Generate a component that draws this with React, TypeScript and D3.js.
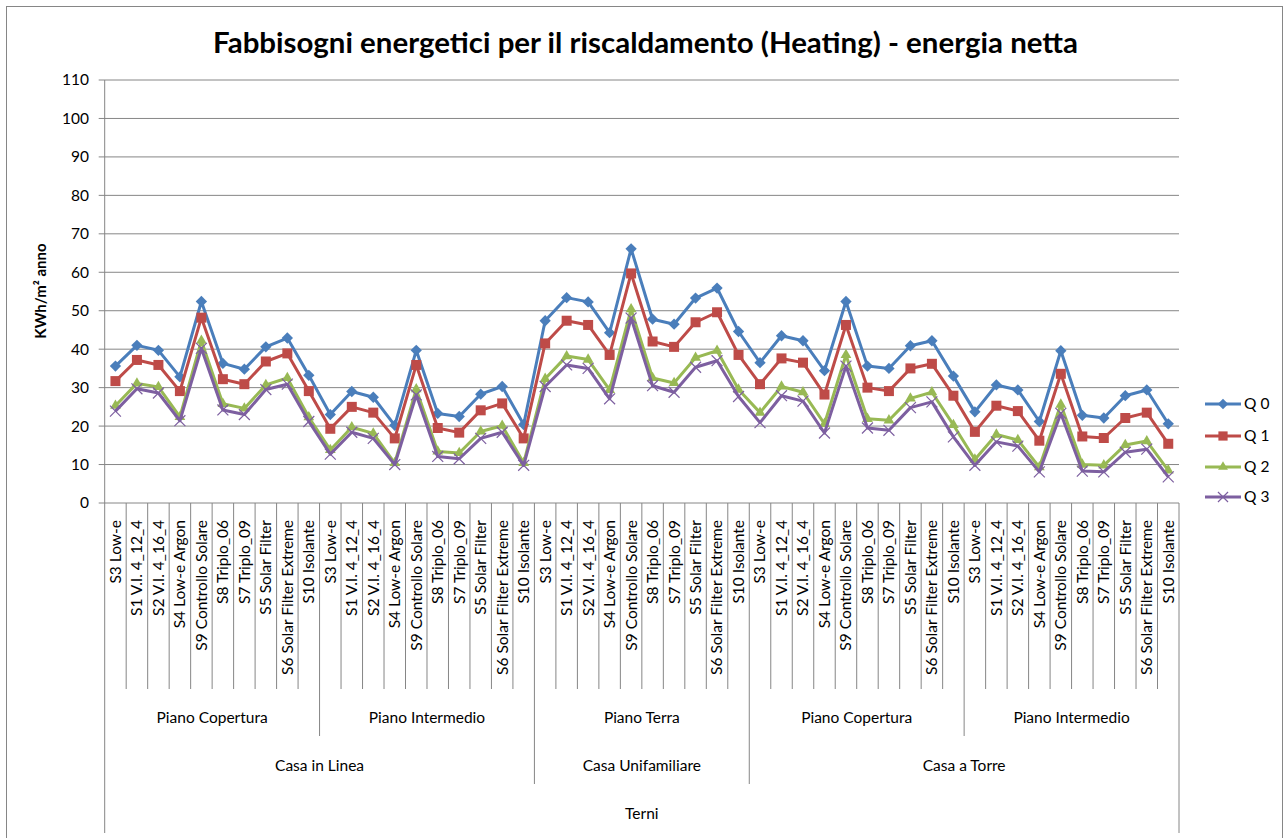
import React from "react";
import * as d3 from "d3";

// data
const tipologie = [
  "S3 Low-e",
  "S1 V.I. 4_12_4",
  "S2 V.I. 4_16_4",
  "S4 Low-e Argon",
  "S9 Controllo Solare",
  "S8 Triplo_06",
  "S7 Triplo_09",
  "S5 Solar Filter",
  "S6 Solar Filter Extreme",
  "S10 Isolante",
];
const piani = ["Piano Copertura", "Piano Intermedio", "Piano Terra", "Piano Copertura", "Piano Intermedio"];
const case_ = ["Casa in Linea", "Casa Unifamiliare", "Casa a Torre"];
const pianiPerCasa = [2, 1, 2];
const citta = "Terni";

const q0 = [
  35.6, 41.0, 39.7, 32.8, 52.4, 36.3, 34.8, 40.6, 42.9, 33.2,
  23.0, 29.0, 27.5, 20.2, 39.7, 23.3, 22.5, 28.3, 30.3, 20.4,
  47.4, 53.4, 52.3, 44.3, 66.1, 47.8, 46.5, 53.3, 55.9, 44.6,
  36.5, 43.5, 42.2, 34.4, 52.4, 35.6, 35.0, 40.9, 42.2, 33.0,
  23.7, 30.7, 29.4, 21.2, 39.6, 22.8, 22.1, 27.9, 29.4, 20.6,
];
const q1 = [
  31.7, 37.2, 35.9, 29.1, 48.2, 32.2, 30.9, 36.8, 38.9, 29.1,
  19.3, 25.0, 23.5, 16.8, 35.9, 19.5, 18.3, 24.1, 25.9, 16.8,
  41.5, 47.4, 46.3, 38.5, 59.7, 42.0, 40.6, 47.0, 49.6, 38.5,
  30.9, 37.6, 36.5, 28.2, 46.3, 30.0, 29.1, 35.0, 36.2, 27.9,
  18.5, 25.3, 23.9, 16.2, 33.6, 17.3, 16.9, 22.1, 23.5, 15.4,
];
const q2 = [
  25.3, 31.1, 30.2, 22.4, 42.2, 25.8, 24.6, 30.7, 32.5, 22.3,
  13.8, 19.7, 18.1, 10.4, 29.6, 13.4, 13.0, 18.6, 20.1, 10.4,
  32.3, 38.2, 37.3, 29.4, 50.4, 32.5, 31.2, 37.8, 39.6, 29.5,
  23.5, 30.3, 28.8, 20.6, 38.5, 21.9, 21.5, 27.2, 28.8, 20.3,
  11.3, 17.8, 16.4, 9.3, 25.6, 10.0, 9.8, 15.1, 16.1, 8.5,
];
const q3 = [
  23.9, 29.7, 28.6, 21.4, 40.2, 24.2, 23.0, 29.5, 30.9, 21.2,
  12.7, 18.4, 16.8, 10.0, 28.1, 12.1, 11.5, 16.8, 18.4, 9.8,
  30.3, 35.9, 35.0, 27.1, 48.1, 30.5, 28.8, 35.3, 37.0, 27.7,
  20.9, 27.9, 26.5, 18.2, 35.6, 19.5, 18.9, 24.8, 26.3, 17.2,
  9.8, 15.9, 14.8, 8.1, 23.3, 8.3, 8.1, 13.2, 14.0, 6.8,
];
const yTicks = [0, 10, 20, 30, 40, 50, 60, 70, 80, 90, 100, 110];

const series = [
  { name: "Q 0", values: q0, color: "#4A7EBB", marker: "diamond" },
  { name: "Q 1", values: q1, color: "#BE4B48", marker: "square" },
  { name: "Q 2", values: q2, color: "#98B954", marker: "triangle" },
  { name: "Q 3", values: q3, color: "#7D5FA0", marker: "x" },
];

const W = 1285;
const H = 838;
const left = 104.7;
const right = 1179;
const top = 80;
const bottom = 503;
const font = "Lato, 'Noto Sans', sans-serif";

function Marker({ type, color, x, y, scale = 1 }) {
  if (type === "diamond") {
    const p = d3.symbol(d3.symbolSquare, 64 * scale)();
    return <path d={p} transform={`translate(${x},${y}) rotate(45)`} fill={color} />;
  }
  if (type === "square") {
    const p = d3.symbol(d3.symbolSquare, 100 * scale)();
    return <path d={p} transform={`translate(${x},${y})`} fill={color} />;
  }
  if (type === "triangle") {
    const p = d3.symbol(d3.symbolTriangle, 50 * scale)();
    return <path d={p} transform={`translate(${x},${y})`} fill={color} />;
  }
  const p = d3.symbol(d3.symbolTimes, 80 * scale)();
  return <path d={p} transform={`translate(${x},${y})`} fill="none" stroke={color} strokeWidth={1.2} />;
}

export default function App() {
  const categorie = d3.range(piani.length * tipologie.length);
  const x = d3.scaleBand<number>().domain(categorie).range([left, right]).padding(0);
  const bw = x.bandwidth();
  const cx = (i: number) => (x(i) as number) + bw / 2;
  const y = d3.scaleLinear().domain([0, 110]).range([bottom, top]);

  const line = d3
    .line<number>()
    .x((_, i) => cx(i))
    .y((d) => y(d));

  const nT = tipologie.length;
  // boundaries of the hierarchical axis
  const boundaries = d3.range(categorie.length + 1).map((b) => {
    let depth = 689;
    if (b % nT === 0) depth = 736;
    let acc = 0;
    pianiPerCasa.forEach((n) => {
      acc += n;
      if (b === acc * nT || b === 0) depth = Math.max(depth, 784);
    });
    if (b === 0 || b === categorie.length) depth = 833;
    return { b, depth };
  });
  const bx = (b: number) => left + b * bw;

  let casaStart = 0;
  const casaSpans = case_.map((c, k) => {
    const s = casaStart;
    casaStart += pianiPerCasa[k] * nT;
    return { label: c, from: s, to: casaStart };
  });

  return (
    <div style={{ position: "fixed", left: 0, top: 0 }}>
      <svg width={W} height={H} style={{ display: "block", background: "#fff" }}>
        <rect x={6.5} y={6.5} width={1276} height={860} fill="#fff" stroke="#868686" strokeWidth={1} />
        <text
          x={645.5}
          y={53}
          textAnchor="middle"
          fontFamily={font}
          fontWeight="bold"
          fontSize={28}
          textLength={865}
          lengthAdjust="spacingAndGlyphs"
          fill="#000"
        >
          Fabbisogni energetici per il riscaldamento (Heating) - energia netta
        </text>

        {/* gridlines */}
        {yTicks.map((t) => (
          <g key={t}>
            <line x1={left - 6} x2={right} y1={y(t)} y2={y(t)} stroke="#868686" strokeWidth={1} />
            <text
              x={89}
              y={y(t)}
              dy="0.35em"
              textAnchor="end"
              fontFamily={font}
              fontSize={15.5}
              fill="#000"
            >
              {t}
            </text>
          </g>
        ))}
        <line x1={left} x2={left} y1={top} y2={bottom} stroke="#868686" />

        <text
          transform={`translate(46,${291}) rotate(-90)`}
          textAnchor="middle"
          fontFamily={font}
          fontWeight="bold"
          fontSize={15}
          fill="#000"
        >
          KWh/m² anno
        </text>

        {/* category axis */}
        {boundaries.map(({ b, depth }) => (
          <line key={b} x1={bx(b)} x2={bx(b)} y1={bottom} y2={depth} stroke="#868686" strokeWidth={1} />
        ))}
        {categorie.map((i) => (
          <text
            key={i}
            transform={`translate(${cx(i)},${520}) rotate(-90)`}
            dy="0.35em"
            textAnchor="end"
            fontFamily={font}
            fontSize={15.5}
            fill="#000"
          >
            {tipologie[i % nT]}
          </text>
        ))}
        {piani.map((p, g) => (
          <text
            key={g}
            x={(bx(g * nT) + bx((g + 1) * nT)) / 2}
            y={723}
            textAnchor="middle"
            fontFamily={font}
            fontSize={15.5}
            fill="#000"
          >
            {p}
          </text>
        ))}
        {casaSpans.map((c) => (
          <text
            key={c.label}
            x={(bx(c.from) + bx(c.to)) / 2}
            y={771}
            textAnchor="middle"
            fontFamily={font}
            fontSize={15.5}
            fill="#000"
          >
            {c.label}
          </text>
        ))}
        <text x={(left + right) / 2} y={819} textAnchor="middle" fontFamily={font} fontSize={15.5} fill="#000">
          {citta}
        </text>

        {/* series */}
        {series.map((s) => (
          <g key={s.name}>
            <path d={line(s.values) as string} fill="none" stroke={s.color} strokeWidth={3} strokeLinejoin="round" />
            {s.values.map((v, i) => (
              <Marker key={i} type={s.marker} color={s.color} x={cx(i)} y={y(v)} />
            ))}
          </g>
        ))}

        {/* legend */}
        {series.map((s, k) => {
          const ly = [404, 436, 467, 497][k];
          return (
            <g key={s.name}>
              <line x1={1205} x2={1241} y1={ly} y2={ly} stroke={s.color} strokeWidth={3} />
              <Marker type={s.marker} color={s.color} x={1223} y={ly} scale={0.85} />
              <text x={1244} y={ly} dy="0.35em" fontFamily={font} fontSize={15.5} fill="#000">
                {s.name}
              </text>
            </g>
          );
        })}
      </svg>
    </div>
  );
}
